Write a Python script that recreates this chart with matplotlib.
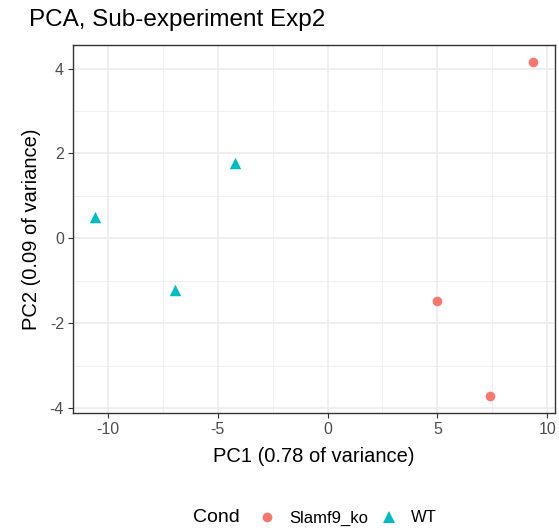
import matplotlib
matplotlib.use("Agg")
import matplotlib.pyplot as plt
from matplotlib.lines import Line2D
import numpy as np

plt.rcParams['font.family'] = ['Liberation Sans', 'DejaVu Sans']
plt.rcParams['axes.unicode_minus'] = False

# Data
ko_pc1 = [9.35, 4.97, 7.38]
ko_pc2 = [4.16, -1.47, -3.72]
wt_pc1 = [-10.58, -6.94, -4.20]
wt_pc2 = [0.50, -1.22, 1.78]
groups = ["Slamf9_ko", "WT"]
colors = ["#F8766D", "#00BFC4"]
x_ticks = [-10, -5, 0, 5, 10]
y_ticks = [-4, -2, 0, 2, 4]

W, H = 559, 532
fig = plt.figure(figsize=(W / 100, H / 100), dpi=100)
ax = fig.add_axes([73 / W, 1 - 413 / H, (555 - 73) / W, (413 - 45) / H])

ax.scatter(ko_pc1, ko_pc2, s=48, marker='o', color=colors[0], linewidths=0, zorder=3)
ax.scatter(wt_pc1, wt_pc2, s=68, marker='^', color=colors[1], linewidths=0, zorder=3)

allx = ko_pc1 + wt_pc1
ally = ko_pc2 + wt_pc2
rx = max(allx) - min(allx)
ry = max(ally) - min(ally)
ax.set_xlim(min(allx) - 0.05 * rx, max(allx) + 0.05 * rx)
ax.set_ylim(min(ally) - 0.05 * ry, max(ally) + 0.05 * ry)

ax.set_xticks(x_ticks)
ax.set_yticks(y_ticks)
ax.set_xticks([-7.5, -2.5, 2.5, 7.5], minor=True)
ax.set_yticks([-3, -1, 1, 3], minor=True)
ax.grid(True, which='major', color='#EBEBEB', linewidth=1.1, zorder=0)
ax.grid(True, which='minor', color='#EBEBEB', linewidth=0.55, zorder=0)
ax.set_axisbelow(True)
ax.tick_params(which='minor', length=0)
ax.tick_params(which='major', length=3.5, width=0.8, color='#333333',
               labelcolor='#4D4D4D', labelsize=11.5, pad=3)
for sp in ax.spines.values():
    sp.set_color('#333333')
    sp.set_linewidth(1.0)

ax.set_xlabel("PC1 (0.78 of variance)", fontsize=14.5, labelpad=7)
ax.set_ylabel("PC2 (0.09 of variance)", fontsize=14.5, labelpad=6)
fig.text(29 / W, 1 - 20 / H, "PCA, Sub-experiment Exp2", fontsize=17.5,
         ha='left', va='center')

# Legend
fig.text(193 / W, 1 - 518 / H, "Cond", fontsize=14, ha='left', va='center')
handles = [
    Line2D([], [], marker='o', linestyle='none', color=colors[0], markersize=7, markeredgewidth=0),
    Line2D([], [], marker='^', linestyle='none', color=colors[1], markersize=8.2, markeredgewidth=0),
]
fig.legend(handles, groups, loc='center left', bbox_to_anchor=(257 / W, 1 - 518 / H),
           ncol=2, frameon=False, fontsize=12, handlelength=1.2, handletextpad=0.75,
           columnspacing=0.6, borderaxespad=0, borderpad=0)

fig.savefig("out.png", dpi=100)
